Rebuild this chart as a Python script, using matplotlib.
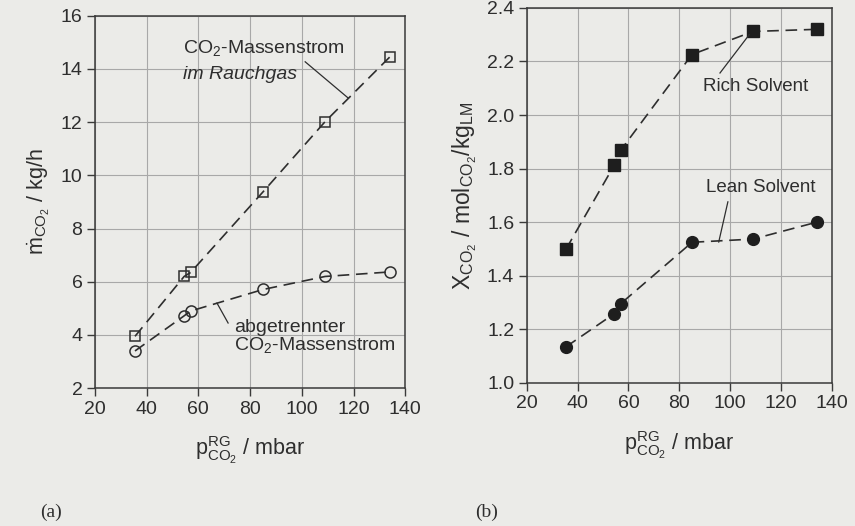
import matplotlib
matplotlib.use("Agg")
import matplotlib.pyplot as plt

plt.rcParams['font.family'] = ['Liberation Sans', 'DejaVu Sans']
plt.rcParams['mathtext.fontset'] = 'custom'
plt.rcParams['mathtext.rm'] = 'Liberation Sans'
plt.rcParams['mathtext.it'] = 'Liberation Sans:italic'

# CO2 partial pressure in the flue gas (mbar)
p_rg = [35.5, 54.5, 57.0, 85.0, 109.0, 134.0]

# (a) CO2 mass flow, kg/h
m_flue = [3.95, 6.2, 6.35, 9.38, 12.02, 14.45]
m_sep = [3.4, 4.72, 4.9, 5.71, 6.2, 6.37]

# (b) CO2 loading, mol CO2 / kg solvent
x_rich = [1.50, 1.814, 1.869, 2.226, 2.312, 2.32]
x_lean = [1.135, 1.259, 1.296, 1.525, 1.537, 1.60]

x_ticks = [20, 40, 60, 80, 100, 120, 140]
ya_ticks = [2, 4, 6, 8, 10, 12, 14, 16]
yb_ticks = [1.0, 1.2, 1.4, 1.6, 1.8, 2.0, 2.2, 2.4]

paper = '#ebebe8'
ink = '#2e2e2e'
dash = (7, 4)

fig = plt.figure(figsize=(8.55, 5.26), dpi=100, facecolor=paper)
ax1 = fig.add_axes([0.111, 0.262, 0.363, 0.708])
ax2 = fig.add_axes([0.616, 0.272, 0.357, 0.713])

for ax in (ax1, ax2):
    ax.set_facecolor(paper)
    ax.set_xlim(20, 140)
    ax.set_xticks(x_ticks)
    ax.grid(True, color='#a8a8a8', linewidth=0.8)
    ax.set_axisbelow(True)
    for s in ax.spines.values():
        s.set_color('#3a3a3a')
        s.set_linewidth(1.1)
    ax.tick_params(direction='out', length=6, width=1.0, color='#3a3a3a',
                   labelsize=14, labelcolor=ink, pad=3)
    ax.set_xlabel(r'$\mathrm{p}_{\mathrm{CO_2}}^{\mathrm{RG}}$ / mbar',
                  fontsize=15.5, color=ink, labelpad=12)

# (a)
ax1.set_ylim(2, 16)
ax1.set_yticks(ya_ticks)
ax1.plot(p_rg, m_flue, linestyle=(0, dash), color=ink, lw=1.2,
         marker='s', ms=7.5, mfc='none', mec=ink, mew=1.1)
ax1.plot(p_rg, m_sep, linestyle=(0, dash), color=ink, lw=1.2,
         marker='o', ms=8, mfc='none', mec=ink, mew=1.1)
ax1.set_ylabel(r'$\dot{\mathrm{m}}_{\mathrm{CO_2}}$ / kg/h', fontsize=15.5,
               color=ink, labelpad=6)

ax1.text(54.1, 14.8, r'CO$_2$-Massenstrom', fontsize=14, color=ink,
         ha='left', va='center')
ax1.text(54.1, 13.78, 'im Rauchgas', fontsize=14, color=ink,
         ha='left', va='center', style='italic')
ax1.plot([101.3, 117.9], [14.27, 12.91], color=ink, lw=0.9)

ax1.text(73.8, 4.30, 'abgetrennter', fontsize=14, color=ink,
         ha='left', va='center')
ax1.text(73.8, 3.62, r'CO$_2$-Massenstrom', fontsize=14, color=ink,
         ha='left', va='center')
ax1.plot([67.2, 71.5], [5.20, 4.45], color=ink, lw=0.9)

# (b)
ax2.set_ylim(1.0, 2.4)
ax2.set_yticks(yb_ticks)
ax2.set_yticklabels([f'{v:.1f}' for v in yb_ticks])
ax2.plot(p_rg, x_rich, linestyle=(0, dash), color=ink, lw=1.2,
         marker='s', ms=8.5, mfc='#1e1e1e', mec='#1e1e1e')
ax2.plot(p_rg, x_lean, linestyle=(0, dash), color=ink, lw=1.2,
         marker='o', ms=8.5, mfc='#1e1e1e', mec='#1e1e1e')
ax2.set_ylabel(r'$\mathrm{X_{CO_2}}$ / mol$_{\mathrm{CO_2}}$/kg$_{\mathrm{LM}}$',
               fontsize=16.5, color=ink, labelpad=6)

ax2.text(89.2, 2.105, 'Rich Solvent', fontsize=13.5, color=ink,
         ha='left', va='center')
ax2.plot([96.0, 107.5], [2.157, 2.30], color=ink, lw=0.9)
ax2.text(90.4, 1.728, 'Lean Solvent', fontsize=13.5, color=ink,
         ha='left', va='center')
ax2.plot([99.1, 95.5], [1.676, 1.526], color=ink, lw=0.9)

fig.text(40 / 855, 1 - 512 / 526, '(a)', family='Liberation Serif',
         fontsize=14, color=ink, ha='left', va='center')
fig.text(475 / 855, 1 - 512 / 526, '(b)', family='Liberation Serif',
         fontsize=14, color=ink, ha='left', va='center')

fig.savefig('out.png', dpi=100, facecolor=paper)
